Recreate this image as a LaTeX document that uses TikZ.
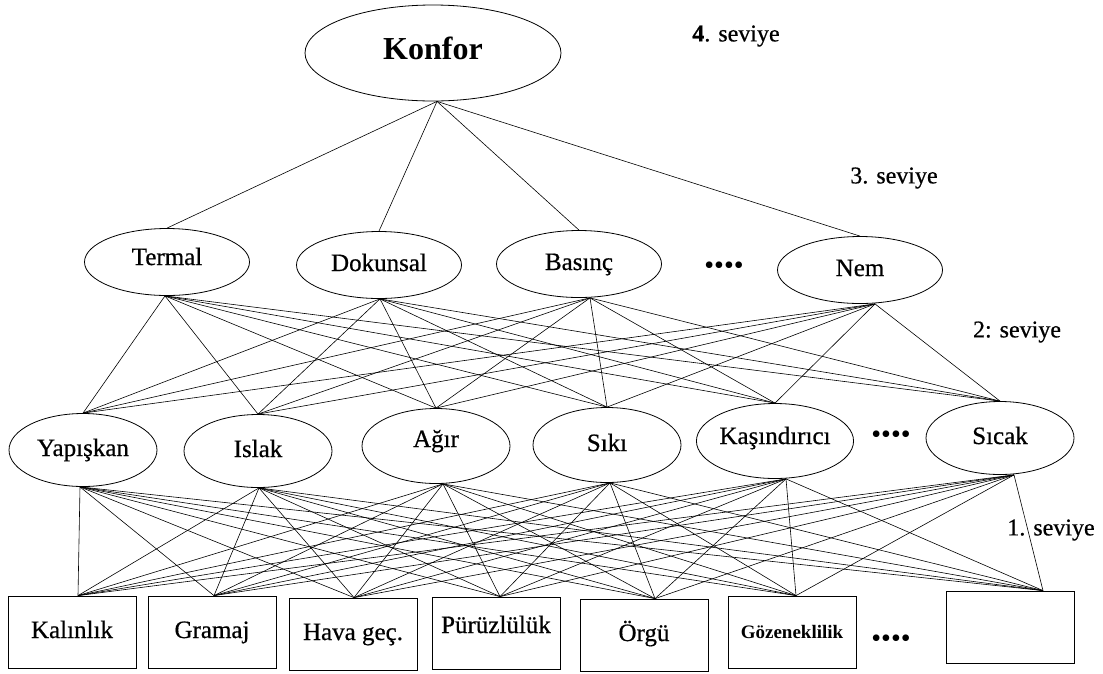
\documentclass[tikz,border=0pt]{standalone}
\usepackage{fontspec}
\setmainfont{Liberation Serif}
\newfontfamily\kalin{Liberation Serif}[FakeBold=0.6]
\usetikzlibrary{shapes.geometric}

\begin{document}
\begin{tikzpicture}[x=1pt, y=-1pt,
	oval/.style={draw, ellipse, line width=0.8pt, inner sep=0pt, minimum width=165pt, minimum height=67pt, text height=17pt, text depth=5pt, font=\kalin\fontsize{25}{28}\selectfont},
	kutu/.style={draw, rectangle, line width=0.8pt, inner sep=0pt, minimum width=128pt, minimum height=72pt, text height=17pt, text depth=5pt, font=\kalin\fontsize{25}{28}\selectfont},
	link/.style={line width=0.6pt},
	seviye/.style={font=\kalin\fontsize{24}{28}\selectfont},
	noktalar/.style={font=\fontsize{28}{28}\selectfont}]
	\useasboundingbox (0,0) rectangle (1103,673);

	% 4. seviye
	\node[oval, minimum width=256pt, minimum height=96pt, font=\fontsize{32}{36}\selectfont\bfseries] (konfor) at (433,53) {Konfor};

	% 3. seviye
	\node[oval] (termal) at (167,262) {\raisebox{3pt}{Termal}};
	\node[oval] (dokunsal) at (379,265) {Dokunsal};
	\node[oval] (basinc) at (579,264) {Basınç};
	\node[noktalar] (dots3) at (724,268) {••••};
	\node[oval] (nem) at (860,270) {Nem};

	% 2. seviye
	\node[oval, minimum width=148pt, minimum height=73pt] (yapiskan) at (83,450) {Yapışkan};
	\node[oval, minimum width=148pt, minimum height=73pt] (islak) at (258,451) {Islak};
	\node[oval, minimum width=148pt, minimum height=75pt] (agir) at (436,446) {\raisebox{5pt}{Ağır}};
	\node[oval, minimum width=148pt, minimum height=75pt] (siki) at (607,445) {Sıkı};
	\node[oval, minimum width=148pt, minimum height=75pt] (kasindirici) at (775,441) {\raisebox{3pt}{Kaşındırıcı}};
	\node[noktalar] (dots2) at (891,437) {••••};
	\node[oval, minimum width=148pt, minimum height=73pt] (sicak) at (1000,438) {Sıcak};

	% 1. seviye
	\node[kutu] (kalinlik) at (72,632) {Kalınlık};
	\node[kutu] (gramaj) at (212,632) {Gramaj};
	\node[kutu] (havagec) at (353,634) {Hava geç.};
	\node[kutu] (puruzluluk) at (496,633) {\raisebox{6pt}{Pürüzlülük}};
	\node[kutu] (orgu) at (644,635) {Örgü};
	\node[kutu, font=\fontsize{19}{22}\selectfont\bfseries] (gozeneklilik) at (792,632) {Gözeneklilik};
	\node[noktalar] (dots1) at (891,641) {••••};
	\node[kutu] (bos) at (1010,627) {};

	% seviye yazilari
	\node[seviye] (lab4) at (736,36) {\textbf{4}. seviye};
	\node[seviye] (lab3) at (894,178) {3. seviye};
	\node[seviye] (lab2) at (1017,332) {2: seviye};
	\node[seviye] (lab1) at (1051,530) {1. seviye};

	% baglantilar
	\foreach \l in {termal,dokunsal,basinc,nem}
		\draw[link] ([xshift=4pt]konfor.south) -- (\l.north);
	\foreach \u/\su in {termal/-2,dokunsal/1,basinc/11,nem/15}
		\foreach \l in {yapiskan,islak,agir,siki,kasindirici,sicak}
			\draw[link] ([xshift=\su pt]\u.south) -- (\l.north);
	\foreach \u/\su in {yapiskan/-3,islak/1,agir/7,siki/3,kasindirici/11,sicak/14}
		\foreach \l/\sl in {kalinlik/6,gramaj/2,havagec/1,puruzluluk/4,orgu/11,gozeneklilik/4,bos/33}
			\draw[link] ([xshift=\su pt]\u.south) -- ([xshift=\sl pt]\l.north);
\end{tikzpicture}
\end{document}
